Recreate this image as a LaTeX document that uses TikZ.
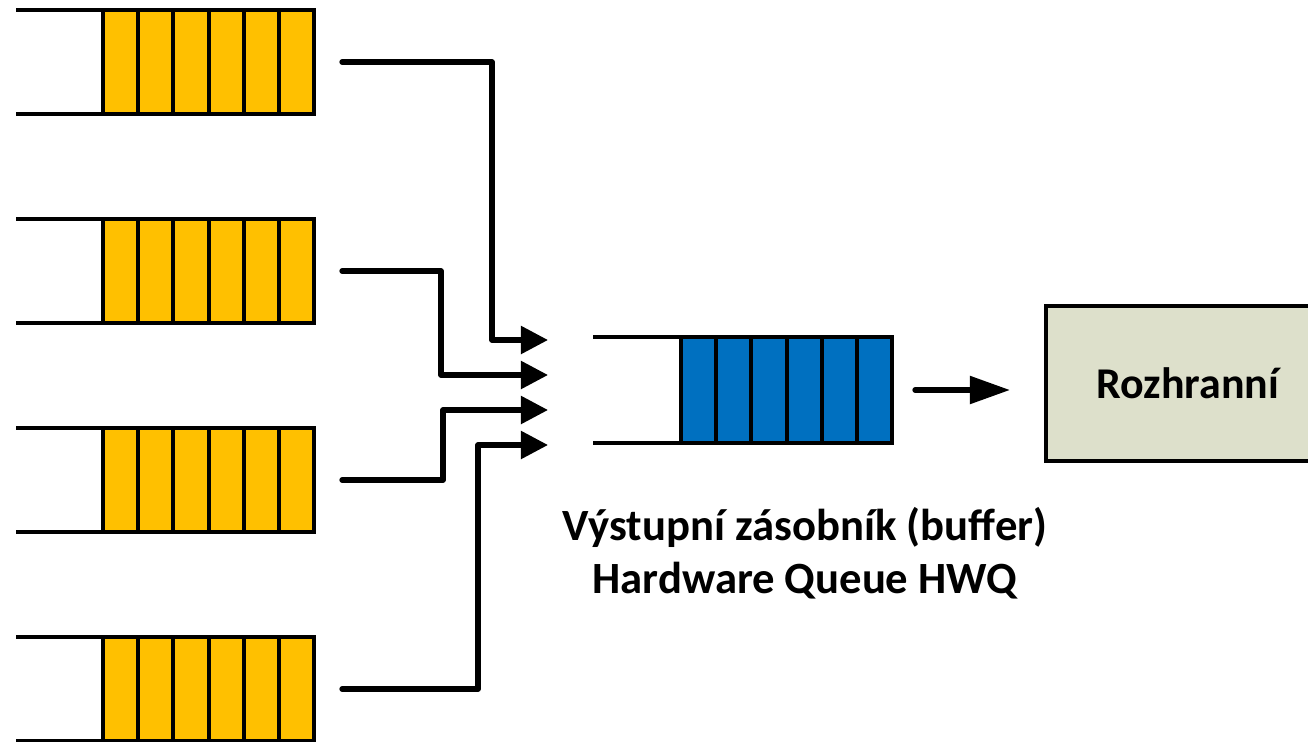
\documentclass[tikz,border=0pt]{standalone}
\usepackage{fontspec}
\setmainfont{Carlito}
\usetikzlibrary{arrows.meta}
\definecolor{cellyellow}{RGB}{255,192,0}
\definecolor{cellblue}{RGB}{0,112,192}
\definecolor{ifgreen}{RGB}{221,224,203}

\begin{document}
\begin{tikzpicture}[x=0.01cm, y=-0.01cm,
  rail/.style={line width=1.1pt},
  wire/.style={line width=1.5pt, line cap=round, line join=round,
    -{Triangle[length=2.7mm,width=2.7mm]}}]
  \useasboundingbox (0,0) rectangle (1308,742);

  % input queues
  \foreach \y [count=\i] in {10,219,428,637} {
    \draw[rail] (16,\y) -- (314,\y);
    \draw[rail] (16,\y+104) -- (314,\y+104);
    \foreach \k in {0,...,5}
      \filldraw[fill=cellyellow, rail] ({103+35.2*\k},\y) rectangle ++(35.2,104);
    \coordinate (src\i) at (342,\y+52);
  }

  % output buffer
  \draw[rail] (593,337) -- (892,337);
  \draw[rail] (593,443) -- (892,443);
  \foreach \k in {0,...,5}
    \filldraw[fill=cellblue, rail] ({681+35.2*\k},337) rectangle ++(35.2,106);
  \foreach \y [count=\i] in {340,375,410,445}
    \coordinate (in\i) at (548,\y);
  \coordinate (bufout) at (915,390);

  \node[draw, fill=ifgreen, line width=1.1pt, minimum width=2.84cm,
    minimum height=1.55cm, font=\bfseries\fontsize{12.5pt}{15pt}\selectfont]
    (iface) at (1188,383.5) {Rozhranní};

  \node[font=\bfseries\fontsize{12.7pt}{15pt}\selectfont, align=center]
    (buflabel) at (805,553) {Výstupní zásobník (buffer)\\Hardware Queue HWQ};

  % connectors
  \draw[wire] (src1) -- ++(150,0) |- (in1);
  \draw[wire] (src2) -- ++(99,0) |- (in2);
  \draw[wire] (src3) -- ++(101,0) |- (in3);
  \draw[wire] (src4) -- ++(136,0) |- (in4);
  \draw[line width=1.5pt, line cap=round, shorten >=0.34cm,
    -{Triangle[length=4mm,width=2.7mm]}] (bufout) -- (bufout -| iface.west);
\end{tikzpicture}
\end{document}
